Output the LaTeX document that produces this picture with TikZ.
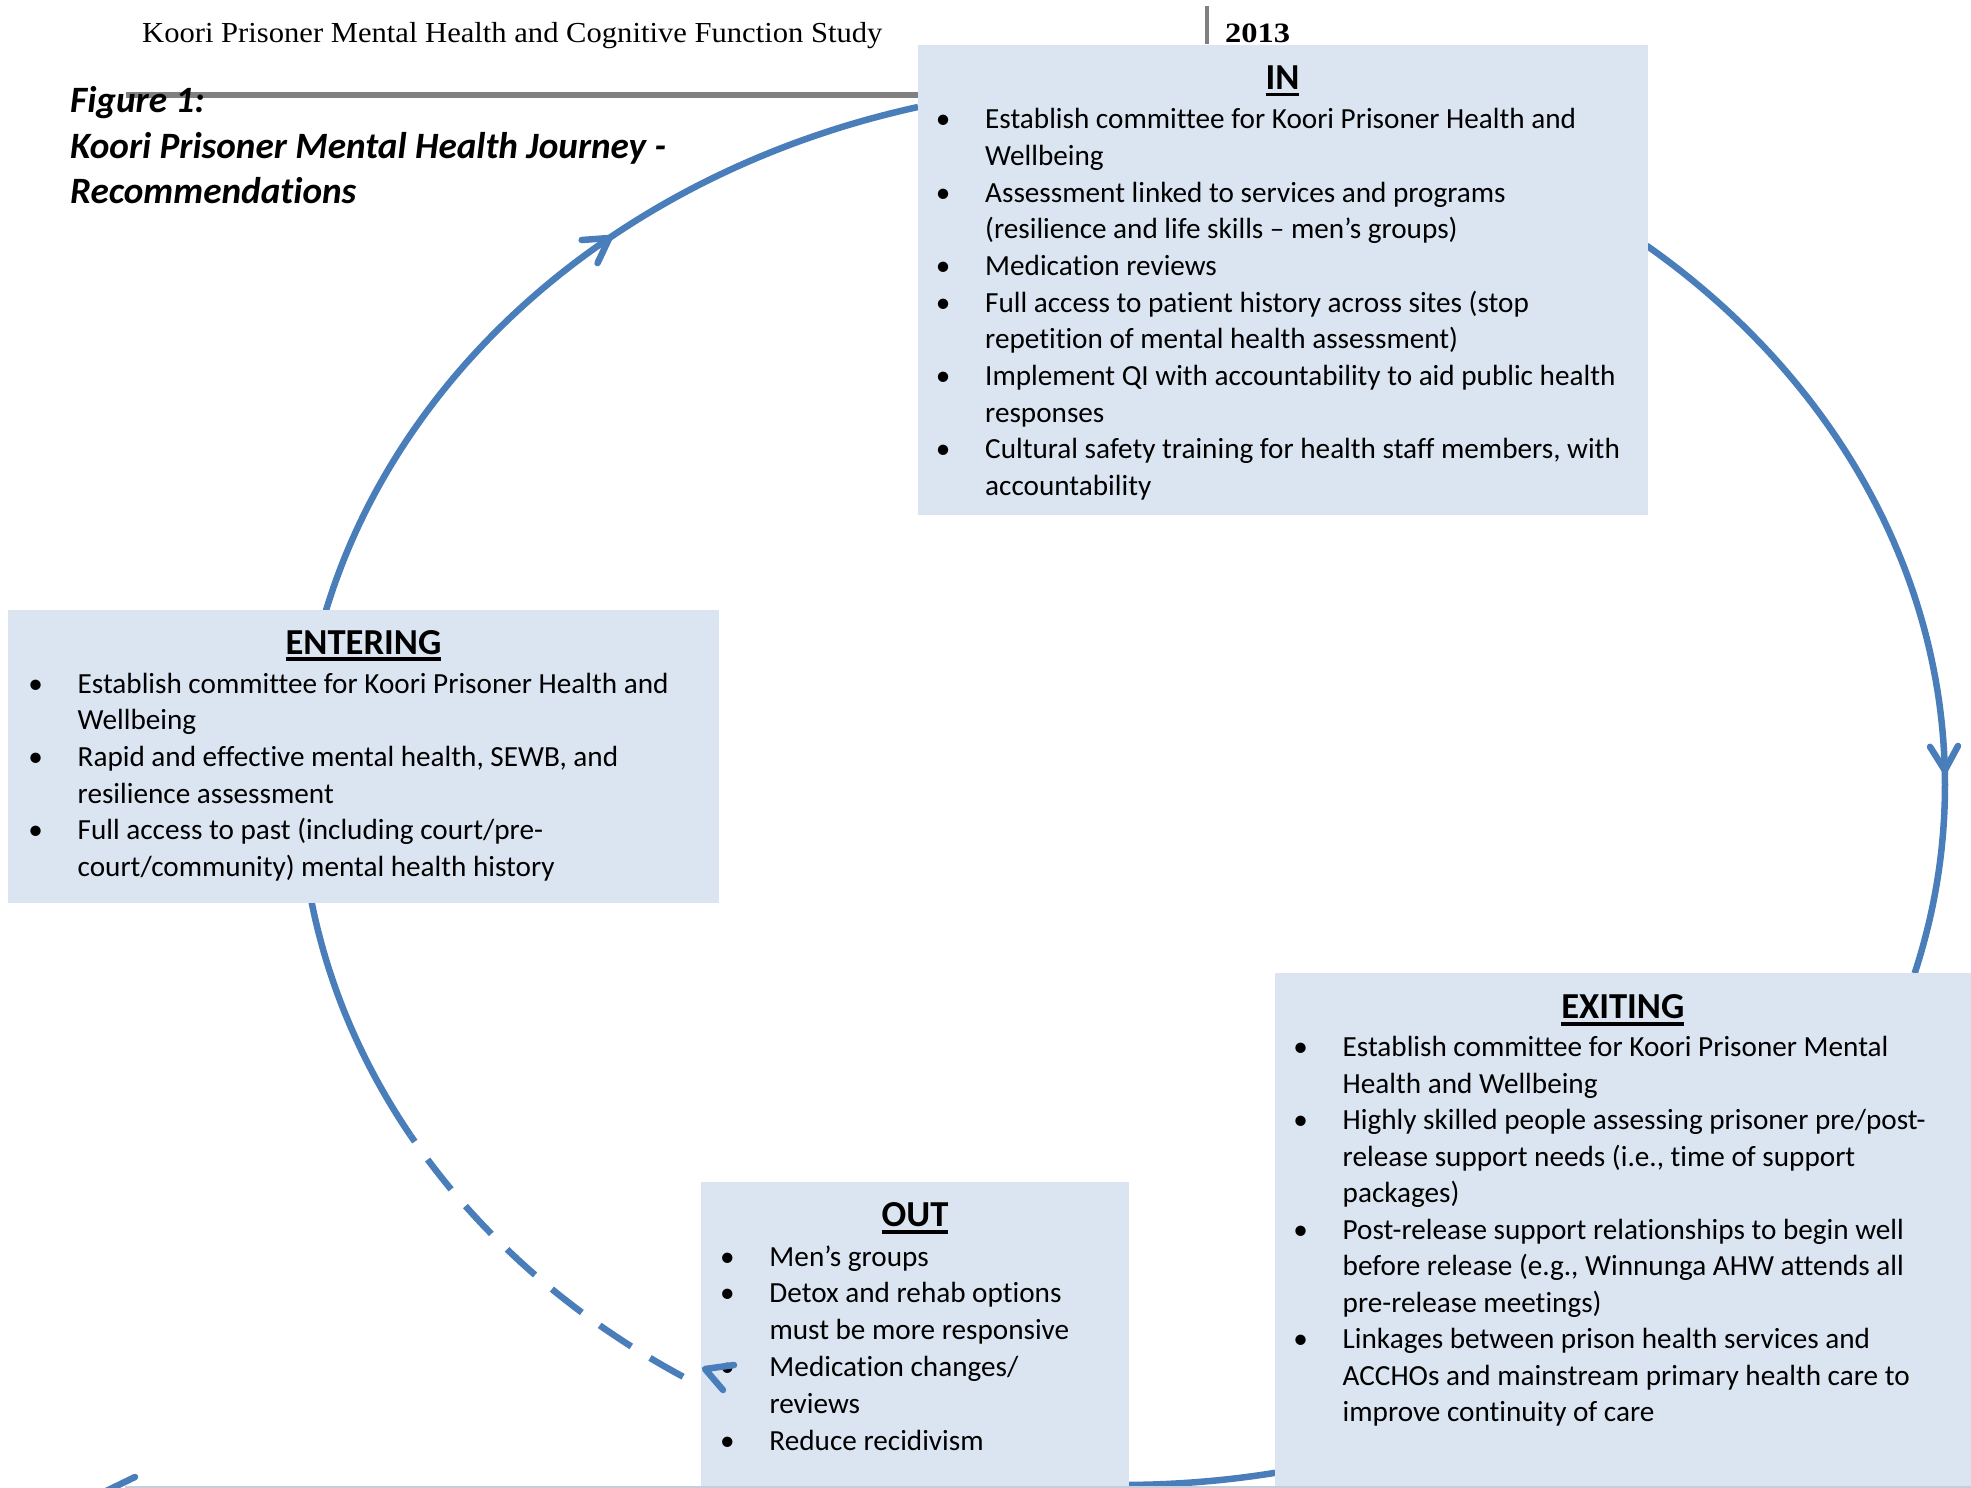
\documentclass[tikz,border=0pt]{standalone}
\usepackage{fontspec}
\setmainfont{Carlito}[Ligatures=NoCommon]
\newfontfamily\hdrfont{Liberation Serif}
\usetikzlibrary{decorations.markings}
\definecolor{boxfill}{HTML}{DBE5F1}
\definecolor{arcblue}{HTML}{4A7EBB}
\definecolor{rulegray}{HTML}{808080}
\definecolor{footline}{HTML}{C6CEDA}
\newcommand\ulbold[1]{\setbox0=\hbox{#1}\rlap{\rule[-6.7pt]{\wd0}{3.4pt}}\box0}
\newcommand\bul{\leavevmode\llap{\makebox[0pt][c]{•}\hspace{42pt}}}
\newcommand\bodyfont[1]{\fontsize{29.2pt}{#1}\selectfont}
\begin{document}
\begin{tikzpicture}[x=1pt,y=-1pt,
  box/.style={fill=boxfill, draw=none, rectangle, inner sep=0pt, anchor=north west},
  arcline/.style={draw=arcblue, line width=6.5pt},
  arrowbarb/.style={draw=arcblue, line width=6.5pt, line cap=round, line join=round},
  arrowend/.style={postaction={decorate, decoration={markings,
      mark=at position 1 with {\draw[arrowbarb] (-24pt,14pt) -- (0pt,0pt) -- (-24pt,-14pt);}}}},
  txt/.style={inner sep=0pt, anchor=base west, align=left},
  ttl/.style={inner sep=0pt, anchor=base, font=\fontsize{36.6pt}{40pt}\selectfont\bfseries}]
\useasboundingbox (0,0) rectangle (1971,1488);
\clip (0,0) rectangle (1971,1488);

% header
\node[txt] (hdr) at (142,43) {\hdrfont\fontsize{29pt}{35pt}\selectfont\scalebox{1.055}[1]{Koori Prisoner Mental Health and Cognitive Function Study}};
\node[txt] (year) at (1225,43) {\hdrfont\fontsize{28pt}{34pt}\selectfont\bfseries\scalebox{1.16}[1]{2013}};
\coordinate (barT) at (1207,6);
\coordinate (barB) at (1207,44);
\draw[rulegray, line width=4pt] (barT) -- (barB);
\coordinate (ruleL) at (126,95);
\coordinate (ruleR) at (930,95);
\draw[rulegray, line width=6pt] (ruleL) -- (ruleR);

% caption
\node[txt] (caption) at (70,113) {\parbox[t]{800pt}{\fontsize{37.2pt}{45.3pt}\selectfont\bfseries\itshape Figure 1:\\ Koori Prisoner Mental Health Journey -\\ Recommendations}};

% cycle arcs (ellipse centre (1122.5,785), radii 822.5 x 700)
\draw[arcline, arrowend] plot[domain=194.4:231.4, samples=60, variable=\t] ({1122.5+822.5*cos(\t)},{785+700*sin(\t)});
\draw[arcline] plot[domain=231.4:255.6, samples=40, variable=\t] ({1122.5+822.5*cos(\t)},{785+700*sin(\t)});
\draw[arcline, arrowend] plot[domain=309.6:358.8, samples=60, variable=\t] ({1122.5+822.5*cos(\t)},{785+700*sin(\t)});
\draw[arcline] plot[domain=358.8:375.6, samples=30, variable=\t] ({1122.5+822.5*cos(\t)},{785+700*sin(\t)});
\draw[arcline] plot[domain=79.3:90.5, samples=30, variable=\t] ({1122.5+822.5*cos(\t)},{785+700*sin(\t)});
\draw[arcline, dash pattern=on 38pt off 22pt, dash phase=38pt] plot[domain=120.7:150, samples=60, variable=\t] ({1122.5+822.5*cos(\t)},{785+700*sin(\t)});
\draw[arcline] plot[domain=150:170.46, samples=40, variable=\t] ({1122.5+822.5*cos(\t)},{785+700*sin(\t)});

% boxes
\node[box, minimum width=730pt, minimum height=470pt] (in) at (918,45) {};
\node[box, minimum width=711pt, minimum height=293pt] (entering) at (8,610) {};
\node[box, minimum width=710pt, minimum height=530pt] (exiting) at (1274.5,973) {};
\node[box, minimum width=428pt, minimum height=320pt] (out) at (701,1182) {};

% titles
\node[ttl] (inT) at (1282.5,89.5) {\ulbold{IN}};
\node[ttl] (enT) at (363.5,654) {\ulbold{ENTERING}};
\node[ttl] (exT) at (1622.8,1018.8) {\ulbold{EXITING}};
\node[ttl] (outT) at (915,1226.8) {\ulbold{OUT}};

% box texts
\node[txt] (inL) at (985,128.8) {\parbox[t]{700pt}{\raggedright\bodyfont{36.67pt}%
\bul Establish committee for Koori Prisoner Health and\\ Wellbeing\par
\bul Assessment linked to services and programs\\ (resilience and life skills – men’s groups)\par
\bul Medication reviews\par
\bul Full access to patient history across sites (stop\\ repetition of mental health assessment)\par
\bul Implement QI with accountability to aid public health\\ responses\par
\bul Cultural safety training for health staff members, with\\ accountability}};

\node[txt] (enL) at (77.5,693.3) {\parbox[t]{700pt}{\raggedright\bodyfont{36.67pt}%
\bul Establish committee for Koori Prisoner Health and\\ Wellbeing\par
\bul Rapid and effective mental health, SEWB, and\\ resilience assessment\par
\bul Full access to past (including court/pre-\\ court/community) mental health history}};

\node[txt] (exL) at (1342.5,1056.5) {\parbox[t]{700pt}{\raggedright\bodyfont{36.5pt}%
\bul Establish committee for Koori Prisoner Mental\\ Health and Wellbeing\par
\bul Highly skilled people assessing prisoner pre/post-\\ release support needs (i.e., time of support\\ packages)\par
\bul Post-release support relationships to begin well\\ before release (e.g., Winnunga AHW attends all\\ pre-release meetings)\par
\bul Linkages between prison health services and\\ ACCHOs and mainstream primary health care to\\ improve continuity of care}};

\node[txt] (outL) at (769.3,1266) {\parbox[t]{500pt}{\raggedright\bodyfont{36.8pt}%
\bul Men’s groups\par
\bul Detox and rehab options\\ must be more responsive\par
\bul Medication changes/\\ reviews\par
\bul Reduce recidivism}};

% arrowhead at the OUT end of the dashed arc
\coordinate (ohA) at (734,1365);
\coordinate (ohT) at (705,1369);
\coordinate (ohB) at (723,1390);
\draw[arrowbarb] (ohA) -- (ohT) -- (ohB);

% stub at bottom left
\coordinate (stubA) at (100,1494);
\coordinate (stubB) at (135,1477);
\draw[arcline, line cap=round] (stubA) -- (stubB);

% page bottom line
\coordinate (footL) at (125,1487);
\coordinate (footR) at (1971,1487);
\draw[footline, line width=2pt] (footL) -- (footR);
\end{tikzpicture}
\end{document}
